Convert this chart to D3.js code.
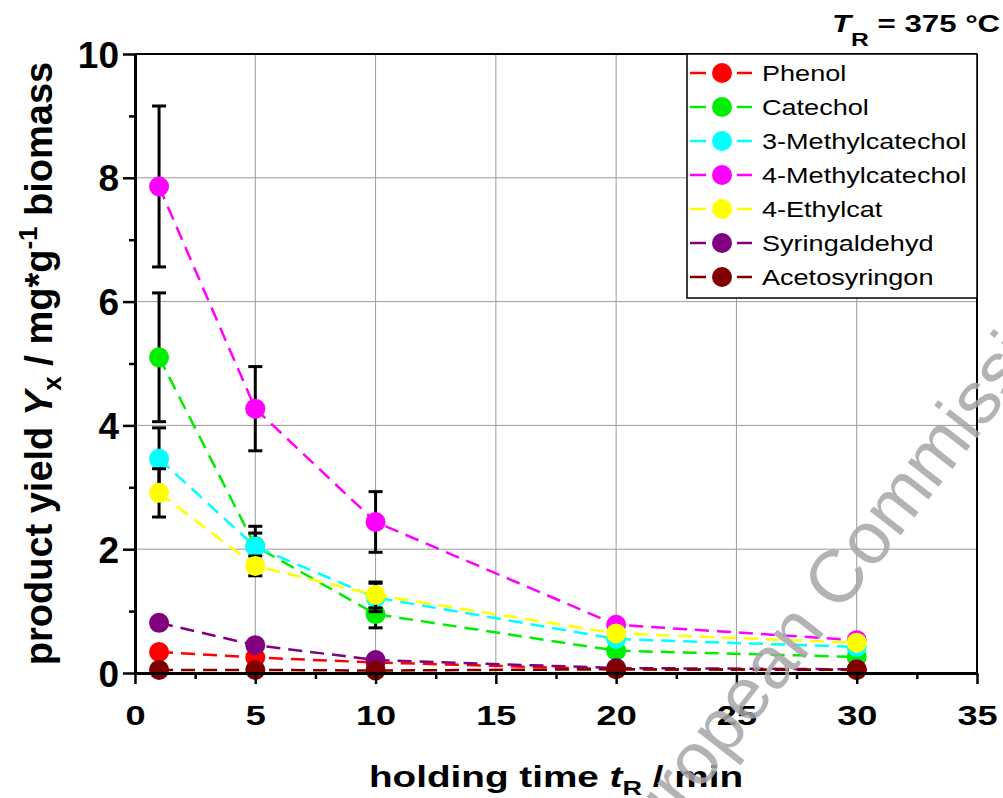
<!DOCTYPE html>
<html>
<head>
<meta charset="utf-8">
<script src="https://cdn.jsdelivr.net/npm/d3@7"></script>
<style>
  html, body { margin: 0; padding: 0; background: #fff; }
  svg { display: block; }
  text { font-family: "Liberation Sans", Arial, sans-serif; }
</style>
</head>
<body>
<svg id="chart" width="1003" height="798"></svg>
<script>
// Holding times (min)
const times = [1, 5, 10, 20, 30];

// Product names and colours
const names = ["Phenol", "Catechol", "3-Methylcatechol", "4-Methylcatechol", "4-Ethylcat", "Syringaldehyd", "Acetosyringon"];
const colors = ["#ff0000", "#00ee00", "#00ffff", "#ff00ff", "#ffff00", "#800080", "#800000"];

// Mean yields (mg/g biomass)
const phenol          = [0.34, 0.25, 0.17, 0.06, 0.05];
const catechol        = [5.10, 2.05, 0.95, 0.36, 0.26];
const methylcat3      = [3.46, 2.04, 1.22, 0.55, 0.42];
const methylcat4      = [7.86, 4.27, 2.44, 0.78, 0.53];
const ethylcat4       = [2.91, 1.73, 1.26, 0.64, 0.49];
const syringaldehyd   = [0.81, 0.45, 0.21, 0.08, 0.06];
const acetosyringon   = [0.05, 0.05, 0.04, 0.06, 0.05];

// Standard deviations
const phenolErr        = [0.05, 0.05, 0.03, 0.02, 0.02];
const catecholErr      = [1.04, 0.32, 0.22, 0.06, 0.05];
const methylcat3Err    = [0.50, 0.22, 0.23, 0.07, 0.05];
const methylcat4Err    = [1.30, 0.68, 0.49, 0.08, 0.06];
const ethylcat4Err     = [0.39, 0.16, 0.21, 0.07, 0.06];
const syringaldehydErr = [0.06, 0.08, 0.04, 0.02, 0.02];
const acetosyringonErr = [0.01, 0.01, 0.01, 0.01, 0.01];

// Axis ticks
const xMajor = [0, 5, 10, 15, 20, 25, 30, 35];
const xMinor = [2.5, 7.5, 12.5, 17.5, 22.5, 27.5, 32.5];
const yMajor = [0, 2, 4, 6, 8, 10];
const yMinor = [1, 3, 5, 7, 9];

const values = [phenol, catechol, methylcat3, methylcat4, ethylcat4, syringaldehyd, acetosyringon];
const errors = [phenolErr, catecholErr, methylcat3Err, methylcat4Err, ethylcat4Err, syringaldehydErr, acetosyringonErr];

const series = names.map((n, i) => ({
  name: n,
  color: colors[i],
  points: times.map((t, j) => ({ t, v: values[i][j], e: errors[i][j] }))
}));

const svg = d3.select("#chart");
const plotL = 135, plotR = 977, plotT = 54, plotB = 673;
const x = d3.scaleLinear().domain([0, 35]).range([plotL, plotR]);
const y = d3.scaleLinear().domain([0, 10]).range([plotB, plotT]);

// Grid
const grid = svg.append("g").attr("stroke", "#9a9a9a").attr("stroke-width", 1);
grid.selectAll("line.v").data(xMajor.filter(d => d > 0 && d < 35)).join("line")
  .attr("x1", d => x(d)).attr("x2", d => x(d)).attr("y1", plotT).attr("y2", plotB);
grid.selectAll("line.h").data(yMajor.filter(d => d > 0 && d < 10)).join("line")
  .attr("x1", plotL).attr("x2", plotR).attr("y1", d => y(d)).attr("y2", d => y(d));

// Frame (top and right)
svg.append("line").attr("x1", plotL).attr("x2", plotR).attr("y1", plotT).attr("y2", plotT)
  .attr("stroke", "#000").attr("stroke-width", 2);
svg.append("line").attr("x1", plotR).attr("x2", plotR).attr("y1", plotT).attr("y2", plotB)
  .attr("stroke", "#000").attr("stroke-width", 2);

// Series: dashed line, error bars, markers
const line = d3.line().x(d => x(d.t)).y(d => y(d.v));
series.forEach(s => {
  const g = svg.append("g");
  g.append("path").datum(s.points).attr("d", line)
    .attr("fill", "none").attr("stroke", s.color).attr("stroke-width", 2.5)
    .attr("stroke-dasharray", "14,8");
  const eb = g.append("g").attr("stroke", "#000").attr("stroke-width", 3);
  eb.selectAll("line.bar").data(s.points).join("line")
    .attr("x1", d => x(d.t)).attr("x2", d => x(d.t))
    .attr("y1", d => y(d.v + d.e)).attr("y2", d => y(d.v - d.e));
  eb.selectAll("line.capT").data(s.points).join("line")
    .attr("x1", d => x(d.t) - 7).attr("x2", d => x(d.t) + 7)
    .attr("y1", d => y(d.v + d.e)).attr("y2", d => y(d.v + d.e));
  eb.selectAll("line.capB").data(s.points).join("line")
    .attr("x1", d => x(d.t) - 7).attr("x2", d => x(d.t) + 7)
    .attr("y1", d => y(d.v - d.e)).attr("y2", d => y(d.v - d.e));
  g.selectAll("circle").data(s.points).join("circle")
    .attr("cx", d => x(d.t)).attr("cy", d => y(d.v)).attr("r", 10)
    .attr("fill", s.color);
});

// Axes
const yAxisG = svg.append("g").attr("transform", `translate(${plotL},0)`)
  .call(d3.axisLeft(y).tickValues(yMajor).tickSizeInner(12).tickSizeOuter(0).tickFormat(d3.format("d")));
svg.append("g").attr("transform", `translate(${plotL},0)`)
  .call(d3.axisLeft(y).tickValues(yMinor).tickSizeInner(6).tickSizeOuter(0).tickFormat(""))
  .call(g => g.select(".domain").remove());
const xAxisG = svg.append("g").attr("transform", `translate(0,${plotB})`)
  .call(d3.axisBottom(x).tickValues(xMajor).tickSizeInner(11).tickSizeOuter(0).tickFormat(d3.format("d")));
svg.append("g").attr("transform", `translate(0,${plotB})`)
  .call(d3.axisBottom(x).tickValues(xMinor).tickSizeInner(6).tickSizeOuter(0).tickFormat(""))
  .call(g => g.select(".domain").remove());

svg.selectAll(".domain").attr("stroke", "#000").attr("stroke-width", 3);
svg.selectAll(".tick line").attr("stroke", "#000").attr("stroke-width", 2.5);

yAxisG.selectAll(".tick text")
  .attr("x", 0).attr("dy", null).attr("fill", "#000")
  .attr("transform", "translate(-16,13)")
  .style("font-family", "'Liberation Sans', Arial, sans-serif")
  .style("font-size", "37px").style("font-weight", "bold");
xAxisG.selectAll(".tick text")
  .attr("y", 0).attr("dy", null).attr("fill", "#000")
  .attr("transform", "translate(0,52) scale(1.29,1)")
  .style("font-family", "'Liberation Sans', Arial, sans-serif")
  .style("font-size", "28px").style("font-weight", "bold");

// Axis titles
const xt = svg.append("g").attr("transform", `translate(${(plotL + plotR) / 2},787) scale(1.29,1)`)
  .append("text").attr("text-anchor", "middle").attr("font-size", 30).attr("font-weight", "bold");
xt.append("tspan").text("holding time ");
xt.append("tspan").attr("font-style", "italic").text("t");
xt.append("tspan").attr("font-size", 21).attr("dy", 8).text("R");
xt.append("tspan").attr("dy", -8).text(" / min");

const yt = svg.append("g").attr("transform", `translate(52,${(plotT + plotB) / 2}) rotate(-90)`)
  .append("text").attr("text-anchor", "middle").attr("font-size", 38).attr("font-weight", "bold");
yt.append("tspan").text("product yield ");
yt.append("tspan").attr("font-style", "italic").text("Y");
yt.append("tspan").attr("font-size", 26).attr("dy", 9).text("x");
yt.append("tspan").attr("dy", -9).text(" / mg*g");
yt.append("tspan").attr("font-size", 26).attr("dy", -15).text("-1");
yt.append("tspan").attr("dy", 15).text(" biomass");

// Temperature annotation
const tt = svg.append("g").attr("transform", "translate(832,32) scale(1.3,1)")
  .append("text").attr("font-size", 24).attr("font-weight", "bold");
tt.append("tspan").attr("font-style", "italic").text("T");
tt.append("tspan").attr("font-size", 19).attr("dy", 14).text("R");
tt.append("tspan").attr("dy", -14).text(" = 375 °C");

// Legend
const lg = svg.append("g");
lg.append("rect").attr("x", 687).attr("y", plotT).attr("width", plotR - 687).attr("height", 244)
  .attr("fill", "#fff").attr("stroke", "#000").attr("stroke-width", 1.5);
series.forEach((s, i) => {
  const cy = 73 + 34 * i;
  lg.append("line").attr("x1", 690).attr("x2", 706).attr("y1", cy).attr("y2", cy)
    .attr("stroke", s.color).attr("stroke-width", 2.5);
  lg.append("line").attr("x1", 737).attr("x2", 752).attr("y1", cy).attr("y2", cy)
    .attr("stroke", s.color).attr("stroke-width", 2.5);
  lg.append("circle").attr("cx", 722).attr("cy", cy).attr("r", 10).attr("fill", s.color);
  lg.append("g").attr("transform", `translate(762,${cy + 8}) scale(1.23,1)`)
    .append("text").attr("font-size", 22).attr("fill", "#000").text(s.name);
});

// Watermark
svg.append("text")
  .attr("transform", "translate(629,883) rotate(-52)")
  .attr("font-size", 74).attr("fill", "#a6a6a6").attr("opacity", 0.85)
  .text("European Commission");
</script>
</body>
</html>
